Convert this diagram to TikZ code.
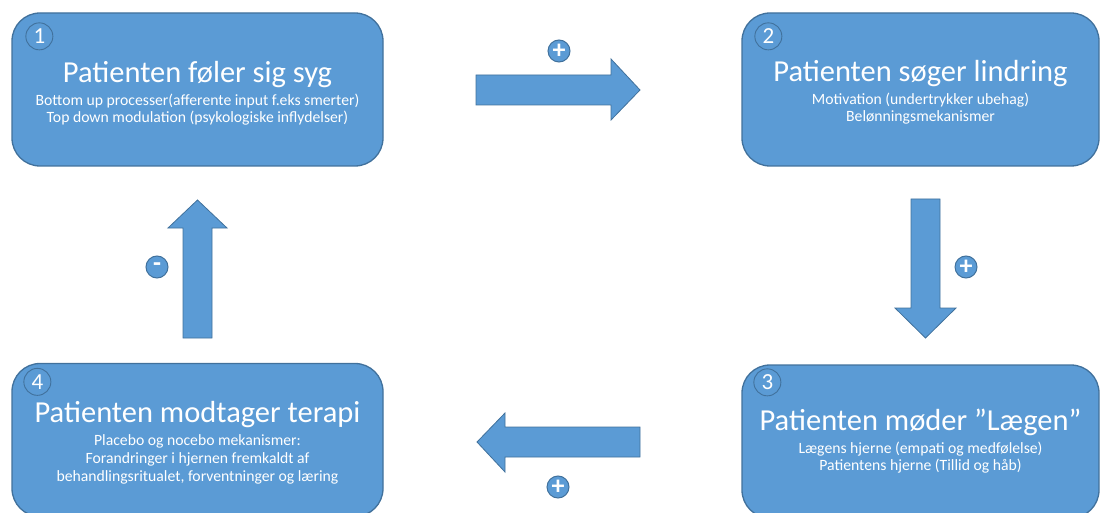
\documentclass[tikz,border=0pt]{standalone}
\usepackage{fontspec}
\setmainfont{Carlito}
\usetikzlibrary{positioning}
\definecolor{boxblue}{HTML}{5B9BD5}
\definecolor{edgeblue}{HTML}{41719C}
\newcommand{\titlefont}{\fontsize{30.5}{32}\selectfont}
\newcommand{\linefont}{\fontsize{15.7}{17.5}\selectfont}
\tikzset{
  stepbox/.style={draw=edgeblue, fill=boxblue, line width=1.3pt, rounded corners=28pt,
    minimum height=153pt, inner sep=0pt},
  steptext/.style={inner sep=0pt, text=white, align=center, font=\linefont},
  numcirc/.style={circle, draw=edgeblue, line width=0.9pt, minimum size=27pt, inner sep=0pt,
    text=white, font=\fontsize{23}{23}\selectfont},
  signcirc/.style={circle, draw=edgeblue, fill=boxblue, line width=1pt, minimum size=22pt,
    inner sep=0pt, text=white, font=\bfseries\fontsize{26}{26}\selectfont},
  bigarrow/.style={draw=edgeblue, fill=boxblue, line width=0.8pt}
}
\begin{document}
\begin{tikzpicture}[x=1pt,y=-1pt]
  \useasboundingbox (0,0) rectangle (1100,513);
  \clip (0,0) rectangle (1100,513);
  % the four steps
  \node[stepbox, minimum width=371pt] (step1) at (197.5,89.5) {};
  \node[stepbox, minimum width=357pt] (step2) at (920.5,89.5) {};
  \node[stepbox, minimum width=357pt] (step3) at (920.5,441.5) {};
  \node[stepbox, minimum width=371pt] (step4) at (197.5,440) {};
  \node[steptext] (text1) at ([yshift=-4pt]step1.center)
    {{\titlefont Patienten føler sig syg}\\[5pt]
     Bottom up processer(afferente input f.eks smerter)\\
     Top down modulation (psykologiske inflydelser)};
  \node[steptext] (text2) at ([yshift=-3pt]step2.center)
    {{\titlefont Patienten søger lindring}\\[5pt]
     Motivation (undertrykker ubehag)\\
     Belønningsmekanismer};
  \node[steptext] (text3) at (step3.center)
    {{\titlefont Patienten møder ”Lægen”}\\[5pt]
     Lægens hjerne (empati og medfølelse)\\
     Patientens hjerne (Tillid og håb)};
  \node[steptext] (text4) at ([yshift=-3pt]step4.center)
    {{\titlefont Patienten modtager terapi}\\[6pt]
     Placebo og nocebo mekanismer:\\[0.5pt]
     Forandringer i hjernen fremkaldt af\\[0.5pt]
     behandlingsritualet, forventninger og læring};
  % numbers
  \node[numcirc] (n1) at ([shift={(28,24)}]step1.north west) {1};
  \node[numcirc] (n2) at ([shift={(27,24)}]step2.north west) {2};
  \node[numcirc] (n3) at ([shift={(26,18)}]step3.north west) {3};
  \node[numcirc] (n4) at ([shift={(26,19)}]step4.north west) {4};
  % block arrows
  \draw[bigarrow] (476,75) -- (611,75) -- (611,59) -- (640,90) -- (611,120) -- (611,105) -- (476,105) -- cycle;
  \draw[bigarrow] (911,199) -- (940,199) -- (940,308) -- (956,308) -- (925.5,338) -- (895,308) -- (911,308) -- cycle;
  \draw[bigarrow] (640,427) -- (505,427) -- (505,413) -- (477,442) -- (505,472) -- (505,457) -- (640,457) -- cycle;
  \draw[bigarrow] (183,338) -- (183,228) -- (168,228) -- (197.5,200) -- (227,228) -- (212,228) -- (212,338) -- cycle;
  % signs
  \node[signcirc] (s12) at (559,51) {+};
  \node[signcirc] (s23) at (966,267) {+};
  \node[signcirc] (s34) at (558,487) {+};
  \node[signcirc] (s41) at (157,267) {-};
\end{tikzpicture}
\end{document}
